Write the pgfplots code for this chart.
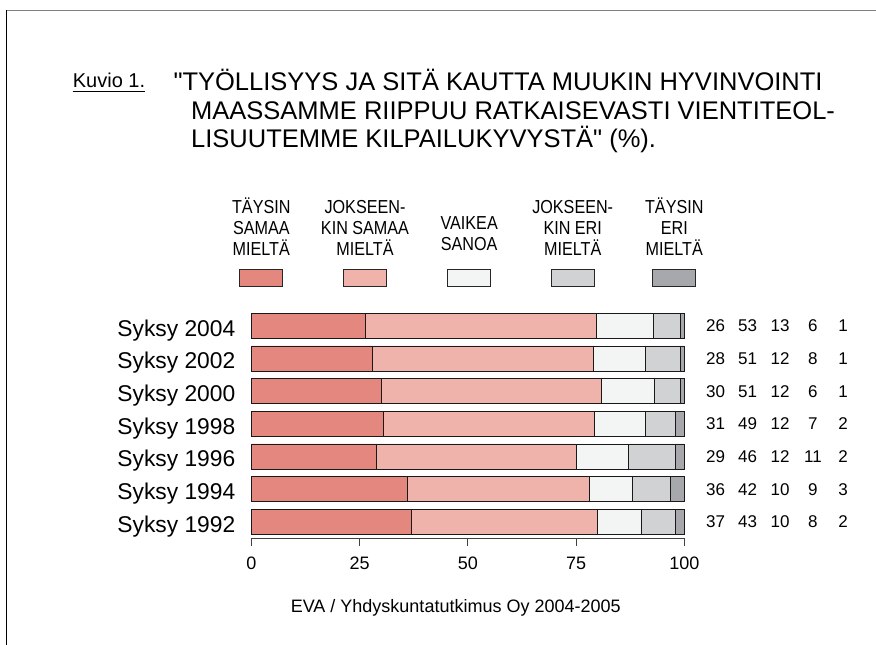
\documentclass[border=0pt]{standalone}
\usepackage{pgfplots}
\pgfplotsset{compat=1.18}
\usepackage{pgfplotstable}
\usepackage{fontspec}
\setmainfont{Liberation Sans}[Ligatures=TeXOff]
\newfontfamily\narrowfont{Liberation Sans}[FakeStretch=0.86]

\definecolor{cA}{RGB}{227,135,127}
\definecolor{cB}{RGB}{240,179,171}
\definecolor{cC}{RGB}{243,245,244}
\definecolor{cD}{RGB}{209,210,212}
\definecolor{cE}{RGB}{167,168,171}

\pgfplotstableread{
y a b c d e la lb lc ld le
0 37.0 42.9 10.1 8.0 2.0 37 43 10 8 2
1 36.0 42.0 10.0 8.9 3.1 36 42 10 9 3
2 29.0 46.0 12.1 10.9 2.0 29 46 12 11 2
3 30.6 48.6 11.9 6.9 2.0 31 49 12 7 2
4 30.0 50.9 12.1 6.0 1.0 30 51 12 6 1
5 27.9 51.1 12.0 8.0 1.0 28 51 12 8 1
6 26.3 53.4 13.1 6.2 1.0 26 53 13 6 1
}\data

\begin{document}
\begin{tikzpicture}
\begin{scope}[x=1pt,y=-1pt]
\path[use as bounding box] (0,0) rectangle (876,645);
% frame
\draw[line width=1.5pt, gray] (6,10.3) -- (876,10.3);
\draw[line width=1pt, black] (6,10.3) -- (6,645);

% title
\node[anchor=base west, inner sep=0pt, font=\fontsize{20}{24}\selectfont] at (72.7,87.3) {Kuvio 1.};
\draw[line width=0.9pt] (72.7,91.7) -- (145,91.7);
\begin{scope}[every node/.style={anchor=base west, inner sep=0pt, font=\fontsize{25.5}{29}\selectfont}]
\node at (173.3,90) {"TYÖLLISYYS JA SITÄ KAUTTA MUUKIN HYVINVOINTI};
\node at (191,119.5) {MAASSAMME RIIPPUU RATKAISEVASTI VIENTITEOL-};
\node at (191,147.5) {LISUUTEMME KILPAILUKYVYSTÄ" (\%).};
\end{scope}

% legend
\begin{scope}[every node/.style={anchor=base, inner sep=0pt, font=\narrowfont\fontsize{18.8}{21}\selectfont}]
\node at (261.3,213.5) {TÄYSIN};
\node at (261.3,234.3) {SAMAA};
\node at (261.3,255) {MIELTÄ};
\node at (365,213.5) {JOKSEEN-};
\node at (365,234.3) {KIN SAMAA};
\node at (365,255) {MIELTÄ};
\node at (469.2,229.3) {VAIKEA};
\node at (469.2,250.5) {SANOA};
\node at (572.7,213.5) {JOKSEEN-};
\node at (572.7,234.3) {KIN ERI};
\node at (572.7,255) {MIELTÄ};
\node at (674.3,213.5) {TÄYSIN};
\node at (674.3,234.3) {ERI};
\node at (674.3,255) {MIELTÄ};
\end{scope}
\foreach \cx/\cc in {261.3/cA,365/cB,469.2/cC,572.7/cD,674.3/cE}{
  \draw[fill=\cc, draw=black!85, line width=0.8pt] (\cx-21.5,269.3) rectangle (\cx+21.5,286);
}
\node[anchor=base, inner sep=0pt, font=\fontsize{18}{20}\selectfont] at (455.7,612) {EVA / Yhdyskuntatutkimus Oy 2004-2005};
\end{scope}

\begin{axis}[
  at={(251.3pt,-538.1pt)}, anchor=south west,
  scale only axis, width=433pt, height=228.7pt,
  xmin=0, xmax=100, ymin=-0.5, ymax=6.5,
  xbar stacked, bar width=0.765,
  axis x line*=bottom, axis y line*=left,
  y axis line style={draw=none},
  x axis line style={black!75, line width=0.9pt, -},
  xtick={0,25,50,75,100},
  ytick={0,...,6},
  yticklabels={Syksy 1992,Syksy 1994,Syksy 1996,Syksy 1998,Syksy 2000,Syksy 2002,Syksy 2004},
  ytick style={draw=none},
  xtick style={black!75, line width=0.9pt},
  tick align=outside, major tick length=8pt,
  /pgf/number format/assume math mode=true,
  xticklabel style={font=\fontsize{18}{20}\selectfont, yshift=-7pt},
  yticklabel style={font=\fontsize{22.8}{26}\selectfont, anchor=base east, yshift=-10.5pt, xshift=-4.5pt},
  clip=false,
  every axis plot/.append style={draw=black!90, line width=0.8pt},
]
\addplot[fill=cA] table[x=a, y=y]{\data};
\addplot[fill=cB] table[x=b, y=y]{\data};
\addplot[fill=cC] table[x=c, y=y]{\data};
\addplot[fill=cD] table[x=d, y=y]{\data};
\addplot[fill=cE] table[x=e, y=y]{\data};
\end{axis}

\begin{axis}[
  at={(251.3pt,-538.1pt)}, anchor=south west,
  scale only axis, width=433pt, height=228.7pt,
  xmin=0, xmax=100, ymin=-0.5, ymax=6.5,
  hide axis, clip=false,
  nodes near coords, point meta=explicit symbolic,
  every node near coord/.append style={anchor=base, yshift=-6pt, inner sep=0pt, font=\fontsize{17}{20}\selectfont},
]
\addplot[only marks, mark=none] table[x expr=107.21, y=y, meta=la]{\data};
\addplot[only marks, mark=none] table[x expr=114.6, y=y, meta=lb]{\data};
\addplot[only marks, mark=none] table[x expr=122.1, y=y, meta=lc]{\data};
\addplot[only marks, mark=none] table[x expr=129.7, y=y, meta=ld]{\data};
\addplot[only marks, mark=none] table[x expr=136.7, y=y, meta=le]{\data};
\end{axis}
\end{tikzpicture}
\end{document}
